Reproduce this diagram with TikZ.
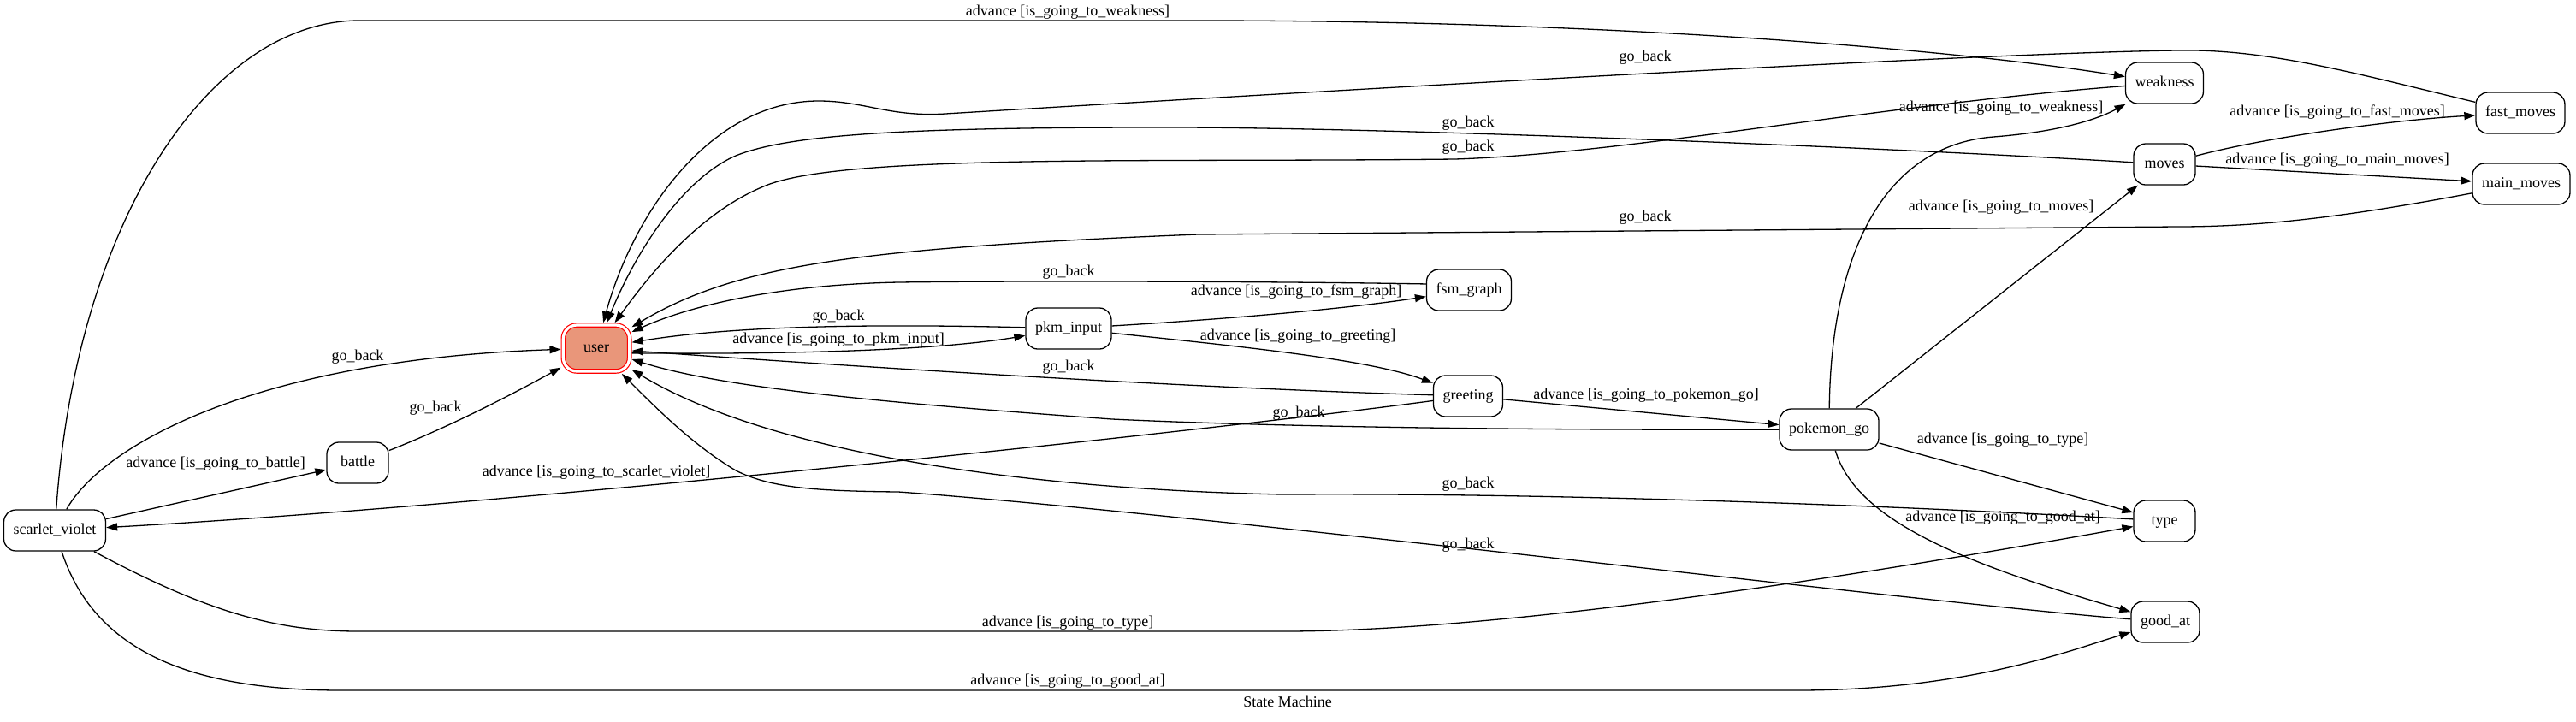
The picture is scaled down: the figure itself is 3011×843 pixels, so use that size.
\documentclass[tikz,border=0pt]{standalone}
\usepackage{fontspec}
\setmainfont{Liberation Serif}
\usetikzlibrary{arrows.meta}
\definecolor{activefill}{RGB}{233,150,122}

\begin{document}
\begin{tikzpicture}[x=0.5pt, y=-0.5pt,
        font=\fontsize{9pt}{11pt}\selectfont,
        statebox/.style={draw, rounded corners=7pt, line width=0.65pt, minimum height=24pt,
            minimum width=36pt, inner xsep=5.5pt, text height=6.5pt, text depth=2pt},
        activebox/.style={draw=red, double=white, double distance=1.6pt, line width=0.6pt,
            fill=activefill, rounded corners=8pt, minimum width=38.7pt, minimum height=27pt,
            outer sep=1.4pt, text height=6.5pt, text depth=2pt},
        trans/.style={-{Triangle[length=6.5pt,width=4.5pt]}, line width=0.65pt},
        lbl/.style={inner sep=0pt, text height=6.5pt, text depth=2pt}]
            \path[fill=white] (0,0) rectangle (3011,843);
            \useasboundingbox (0,0) rectangle (3011,843);

            \node[statebox] (scarlet) at (64,620) {scarlet\_violet};
            \node[statebox] (battle) at (418,541) {battle};
            \node[activebox] (user) at (697,407) {user};
            \node[statebox] (pkm) at (1249,384) {pkm\_input};
            \node[statebox] (fsm) at (1717,339) {fsm\_graph};
            \node[statebox] (greeting) at (1716,463) {greeting};
            \node[statebox] (pokemon) at (2138,502) {pokemon\_go};
            \node[statebox] (weakness) at (2530,97) {weakness};
            \node[statebox] (fast) at (2946,132) {fast\_moves};
            \node[statebox] (moves) at (2530,192) {moves};
            \node[statebox] (main) at (2947,215) {main\_moves};
            \node[statebox] (type) at (2530,609) {type};
            \node[statebox] (goodat) at (2531,727) {good\_at};

            \draw[trans] (scarlet) .. controls (90,250) and (250,24) .. (420,24) -- (1400,24)
                .. controls (1900,24) and (2300,60) .. (weakness);
            \draw[trans] (fast) .. controls (2750,85) and (2650,57) .. (2545,59)
                .. controls (2300,62) and (1450,112) .. (1105,133)
                .. controls (1040,137) and (1010,118) .. (957,118)
                .. controls (830,118) and (740,250) .. (user);
            \draw[trans] (moves) .. controls (2200,172) and (1600,148) .. (1350,149)
                .. controls (1050,149) and (920,158) .. (860,182)
                .. controls (800,208) and (745,290) .. (user);
            \draw[trans] (weakness) .. controls (2200,122) and (1900,180) .. (1700,186)
                .. controls (1350,190) and (1000,180) .. (900,215)
                .. controls (820,245) and (760,320) .. (user);
            \draw[trans] (main) .. controls (2750,252) and (2650,265) .. (2545,265) -- (1400,274)
                .. controls (1000,290) and (860,310) .. (user);
            \draw[trans] (fsm.172) .. controls (1500,329) and (1200,328) .. (1050,330)
                .. controls (900,333) and (800,360) .. (user);
            \draw[trans] (pkm) .. controls (1000,378) and (850,382) .. (user);
            \draw[trans] (user.-8) .. controls (880,414) and (1080,412) .. (pkm);
            \draw[trans] (greeting) .. controls (1350,452) and (950,425) .. (user);
            \draw[trans] (pokemon) .. controls (1700,503) and (1450,497) .. (1300,490)
                .. controls (1050,472) and (850,455) .. (user);
            \draw[trans] (type) .. controls (2200,590) and (1800,576) .. (1500,578)
                .. controls (1200,572) and (900,530) .. (user);
            \draw[trans] (goodat) .. controls (2250,705) and (1400,600) .. (1050,575)
                .. controls (950,574) and (900,570) .. (860,550)
                .. controls (810,520) and (770,480) .. (user);
            \draw[trans] (battle) .. controls (530,497) and (600,460) .. (user);
            \draw[trans] (scarlet) .. controls (120,520) and (300,420) .. (user);
            \draw[trans] (scarlet) -- (battle);
            \draw[trans] (greeting) .. controls (1400,505) and (600,590) .. (scarlet);
            \draw[trans] (pkm) .. controls (1450,372) and (1580,360) .. (fsm);
            \draw[trans] (pkm) .. controls (1450,405) and (1600,420) .. (greeting);
            \draw[trans] (greeting) -- (pokemon);
            \draw[trans] (pokemon) .. controls (2140,300) and (2200,170) .. (2330,160)
                .. controls (2420,153) and (2460,135) .. (weakness);
            \draw[trans] (pokemon) -- (moves);
            \draw[trans] (moves) .. controls (2650,160) and (2800,140) .. (fast);
            \draw[trans] (moves) -- (main);
            \draw[trans] (pokemon) -- (type);
            \draw[trans] (pokemon) .. controls (2170,610) and (2300,660) .. (goodat);
            \draw[trans] (scarlet) .. controls (250,720) and (330,738) .. (420,738) -- (1500,738)
                .. controls (1800,738) and (2300,650) .. (type);
            \draw[trans] (scarlet) .. controls (110,760) and (220,807) .. (400,807) -- (2100,807)
                .. controls (2300,807) and (2420,760) .. (goodat);

            \foreach \x/\y [count=\i] in {1923/67, 1716/144, 1716/172, 1923/254, 1249/318, 980/370,
                1249/429, 1518/483, 418/417, 509/477, 1716/566, 1716/637} {
            \node[lbl] (back\i) at (\x,\y) {go\_back};
            }
            \foreach \x/\y/\t [count=\i] in {1248/14/weakness, 980/397/pkm\_input, 1515/341/fsm\_graph,
                1517/393/greeting, 1924/462/pokemon\_go, 252/542/battle, 697/552/scarlet\_violet,
                2339/126/weakness, 2339/242/moves, 2732/131/fast\_moves, 2732/187/main\_moves,
                2341/514/type, 2341/605/good\_at, 1248/728/type, 1248/796/good\_at} {
            \node[lbl] (adv\i) at (\x,\y) {advance [is\_going\_to\_\t]};
            }
            \node[lbl] (title) at (1505,822) {State Machine};
\end{tikzpicture}
\end{document}
